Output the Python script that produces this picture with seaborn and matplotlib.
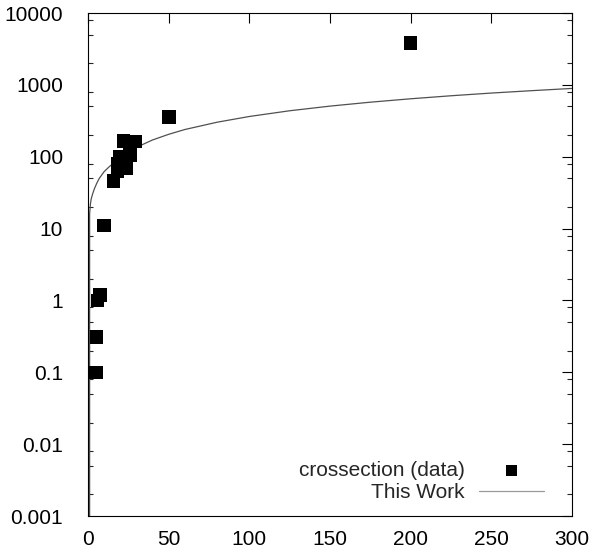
import matplotlib
matplotlib.use("Agg")
import matplotlib.pyplot as plt
import matplotlib.ticker as mticker
import seaborn as sns
import pandas as pd

data_x = [5.0, 5.4, 6.0, 7.4, 9.9, 15.7, 18.4, 18.4, 19.8, 21.9, 24.0, 26.0, 29.1, 50.2, 200.0]
data_y = [0.10, 0.31, 1.0, 1.2, 11, 46, 62, 81, 100, 165, 70, 106, 162, 357, 3800]

# model curve ("This Work"), read point by point
model_x = [1.0, 1.0, 1.5, 2, 3, 4, 5.5, 7, 10, 13, 16, 20, 25, 30, 40, 50, 60, 80, 100,
           125, 150, 175, 200, 225, 250, 275, 300]
model_y = [1e-4, 16, 22, 26, 31, 36, 43, 50, 62, 72, 82, 96, 115, 135, 171, 205, 239, 302, 363,
           436, 506, 574, 640, 705, 769, 830, 892]

df_data = pd.DataFrame({"x": data_x, "y": data_y})
df_model = pd.DataFrame({"x": model_x, "y": model_y})

sns.set_theme(style="white")
plt.rcParams["font.family"] = ["Liberation Sans", "DejaVu Sans"]

fig = plt.figure(figsize=(5.94, 5.52), dpi=100)
ax = fig.add_axes([88 / 594, 1 - 516 / 552, (572 - 88) / 594, (516 - 13) / 552])

sns.scatterplot(data=df_data, x="x", y="y", marker="s", s=95, color="black",
                edgecolor="none", ax=ax, label="crossection (data)", zorder=3)
sns.lineplot(data=df_model, x="x", y="y", estimator=None, sort=False, color="#505050",
             linewidth=0.9, ax=ax, label="This Work", zorder=2)

ax.set_yscale("log")
ax.set_xlim(0, 300)
ax.set_ylim(0.001, 10000)
ax.set_xlabel("")
ax.set_ylabel("")

ax.set_xticks([0, 50, 100, 150, 200, 250, 300])
ax.yaxis.set_minor_locator(mticker.LogLocator(base=10, subs=[2, 5, 8], numticks=20))
ax.yaxis.set_minor_formatter(mticker.NullFormatter())
ax.set_yticks([1e-3, 1e-2, 1e-1, 1, 10, 100, 1000, 10000])
ax.set_yticklabels(["0.001", "0.01", "0.1", "1", "10", "100", "1000", "10000"])

ax.tick_params(axis="both", which="major", direction="in", length=7, width=0.8,
               top=True, right=True, labelsize=15, colors="black")
ax.tick_params(axis="y", which="minor", direction="in", length=3.5, width=0.8,
               left=True, right=True)
ax.tick_params(axis="y", which="major", pad=18)
ax.tick_params(axis="x", which="major", pad=10)

for sp in ax.spines.values():
    sp.set_visible(True)
    sp.set_color("black")
    sp.set_linewidth(0.8)

# gnuplot-style key: no frame, text right-aligned, sample on the right
leg = ax.legend(loc="lower right", frameon=False, markerfirst=False, fontsize=15,
                handlelength=3.1, handletextpad=0.67, labelspacing=0.15,
                bbox_to_anchor=(0.98, -0.01))
for h in leg.legend_handles:
    try:
        h.set_sizes([60])
    except AttributeError:
        h.set_color("#999999")

fig.savefig("out.png", dpi=100)
